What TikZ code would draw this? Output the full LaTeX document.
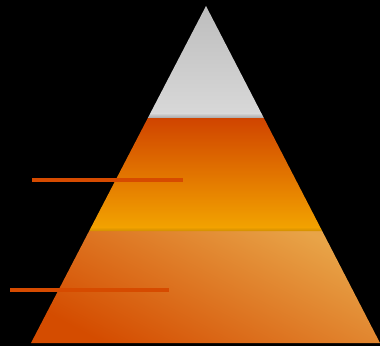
\documentclass[tikz,border=0pt]{standalone}
\usepackage{tikz}
\usetikzlibrary{calc}
\usepackage{xcolor}
\definecolor{tiptop}{HTML}{BDBDBD}
\definecolor{tipbot}{HTML}{D8D8D8}
\definecolor{tipedge}{HTML}{A8A8A8}
\definecolor{midtop}{HTML}{D04400}
\definecolor{midbot}{HTML}{F2A200}
\definecolor{midedge}{HTML}{D08E00}
\definecolor{baselo}{HTML}{D44C00}
\definecolor{basehi}{HTML}{E8A448}
\definecolor{barred}{HTML}{D64B00}

\begin{document}
\begin{tikzpicture}[x=1pt,y=1pt,line cap=butt,bar/.style={draw=barred,line width=3.5pt}]
\fill[black] (0,0) rectangle (380,346);
\coordinate (apex) at (206,340);
\coordinate (bl) at (31,3);
\coordinate (br) at (380,3);
\coordinate (l1) at ($(apex)!0.332!(bl)$);
\coordinate (r1) at ($(apex)!0.332!(br)$);
\coordinate (l1b) at ($(apex)!0.318!(bl)$);
\coordinate (r1b) at ($(apex)!0.318!(br)$);
\coordinate (l2) at ($(apex)!0.668!(bl)$);
\coordinate (r2) at ($(apex)!0.668!(br)$);
\coordinate (l2b) at ($(apex)!0.656!(bl)$);
\coordinate (r2b) at ($(apex)!0.656!(br)$);
\shade[bottom color=baselo,top color=basehi,shading angle=-28] (l2) -- (r2) -- (br) -- (bl) -- cycle;
\shade[top color=midtop,bottom color=midbot] (l1) -- (r1) -- (r2b) -- (l2b) -- cycle;
\shade[top color=midbot,bottom color=midedge] (l2b) -- (r2b) -- (r2) -- (l2) -- cycle;
\shade[top color=tiptop,bottom color=tipbot] (apex) -- (r1b) -- (l1b) -- cycle;
\shade[top color=tipbot,bottom color=tipedge] (l1b) -- (r1b) -- (r1) -- (l1) -- cycle;
\coordinate (m1) at (32,166);
\coordinate (m1e) at (183,166);
\coordinate (m2) at (10,56);
\coordinate (m2e) at (169,56);
\draw[bar] (m1) -- (m1e);
\draw[bar] (m2) -- (m2e);
\end{tikzpicture}
\end{document}
